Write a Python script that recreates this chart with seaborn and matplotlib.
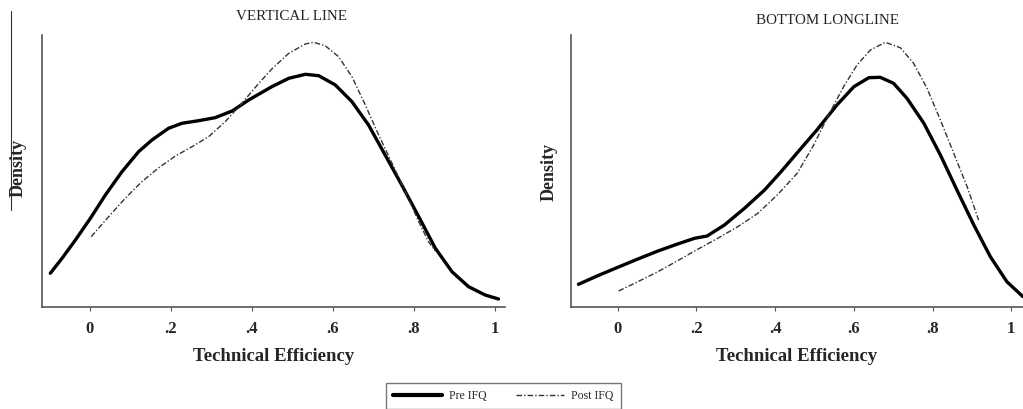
import matplotlib
matplotlib.use("Agg")
import matplotlib.pyplot as plt
from matplotlib.lines import Line2D
import seaborn as sns

# =========================
# DATA (density in arbitrary units)
# =========================
vl_pre_x = [-0.098, -0.069, -0.036, 0.001, 0.038, 0.079, 0.120, 0.153, 0.194,
            0.227, 0.268, 0.309, 0.351, 0.392, 0.449, 0.491, 0.532, 0.565,
            0.606, 0.647, 0.688, 0.729, 0.770, 0.812, 0.853, 0.894, 0.935,
            0.976, 1.009]
vl_pre_y = [0.337, 0.487, 0.670, 0.887, 1.120, 1.353, 1.553, 1.670, 1.787,
            1.837, 1.863, 1.893, 1.960, 2.070, 2.203, 2.287, 2.327, 2.313,
            2.220, 2.053, 1.820, 1.520, 1.220, 0.903, 0.587, 0.353, 0.203,
            0.120, 0.080]

vl_post_x = [0.003, 0.046, 0.087, 0.128, 0.170, 0.211, 0.252, 0.293, 0.334,
             0.375, 0.417, 0.449, 0.491, 0.532, 0.552, 0.581, 0.614, 0.647,
             0.680, 0.713, 0.746, 0.779, 0.812, 0.836, 0.853]
vl_post_y = [0.703, 0.903, 1.087, 1.253, 1.393, 1.510, 1.603, 1.703, 1.853,
             2.037, 2.237, 2.380, 2.537, 2.630, 2.647, 2.613, 2.503, 2.303,
             2.020, 1.720, 1.437, 1.153, 0.853, 0.653, 0.560]

bl_pre_x = [-0.100, -0.051, 0.000, 0.051, 0.102, 0.152, 0.195, 0.227, 0.271,
            0.322, 0.373, 0.415, 0.456, 0.506, 0.557, 0.600, 0.638, 0.667,
            0.701, 0.735, 0.778, 0.820, 0.862, 0.905, 0.947, 0.989, 1.030]
bl_pre_y = [0.227, 0.313, 0.397, 0.480, 0.560, 0.630, 0.687, 0.710, 0.820,
            0.987, 1.170, 1.353, 1.542, 1.770, 2.020, 2.203, 2.293, 2.297,
            2.237, 2.087, 1.837, 1.520, 1.170, 0.820, 0.503, 0.253, 0.103]

bl_post_x = [0.002, 0.051, 0.102, 0.152, 0.203, 0.254, 0.305, 0.356, 0.407,
             0.456, 0.498, 0.540, 0.574, 0.608, 0.642, 0.680, 0.718, 0.752,
             0.786, 0.820, 0.854, 0.888, 0.917]
bl_post_y = [0.160, 0.253, 0.353, 0.463, 0.577, 0.687, 0.803, 0.937, 1.127,
             1.337, 1.620, 1.953, 2.203, 2.420, 2.570, 2.647, 2.593, 2.437,
             2.187, 1.870, 1.537, 1.203, 0.870]

panels = ["VERTICAL LINE", "BOTTOM LONGLINE"]
tick_vals = [0, 0.2, 0.4, 0.6, 0.8, 1]
tick_labels = ["0", ".2", ".4", ".6", ".8", "1"]
legend_labels = ["Pre IFQ", "Post IFQ"]

# =========================
# STYLE
# =========================
sns.set_style("white")
plt.rcParams["font.family"] = ["Liberation Serif", "DejaVu Serif"]

post_style = (0, (4, 1.5, 1, 1.5))

fig = plt.figure(figsize=(10.23, 4.09), dpi=100)

ax1 = fig.add_axes([42 / 1023, 1 - 307 / 409, 463 / 1023, 272 / 409])
ax2 = fig.add_axes([571 / 1023, 1 - 307 / 409, 452 / 1023, 272 / 409])

series = [
    (ax1, vl_pre_x, vl_pre_y, vl_post_x, vl_post_y, (-0.1185, 1.025)),
    (ax2, bl_pre_x, bl_pre_y, bl_post_x, bl_post_y, (-0.119, 1.03)),
]

for (ax, px, py, qx, qy, xlim), title in zip(series, panels):

    sns.lineplot(x=px, y=py, ax=ax, color="black", linewidth=2.4,
                 sort=False, estimator=None)

    sns.lineplot(x=qx, y=qy, ax=ax, color="#333333", linewidth=1.0,
                 sort=False, estimator=None, linestyle=post_style)

    ax.set_xlim(*xlim)
    ax.set_ylim(0, 2.72)

    ax.set_xticks(tick_vals)
    ax.set_xticklabels(tick_labels, fontsize=12, fontweight="bold")
    ax.set_yticks([])

    ax.tick_params(axis="x", direction="out", length=3, width=0.8,
                   color="#555555", pad=7, bottom=True)

    for side in ["top", "right"]:
        ax.spines[side].set_visible(False)
    for side in ["left", "bottom"]:
        ax.spines[side].set_color("#555555")
        ax.spines[side].set_linewidth(1.2)

    ax.set_xlabel("Technical Efficiency", fontsize=13.5, fontweight="bold",
                  labelpad=8)
    ax.set_ylabel("")

# titles
fig.text(292 / 1023, 1 - 17 / 409, panels[0], ha="center", va="center",
         fontsize=10.8, color="#222222")
fig.text(827 / 1023, 1 - 20 / 409, panels[1], ha="center", va="center",
         fontsize=10.8, color="#222222")

# y labels
fig.text(18 / 1023, 1 - 168 / 409, "Density", rotation=90, ha="center",
         va="center", fontsize=13, fontweight="bold")
fig.text(549 / 1023, 1 - 172 / 409, "Density", rotation=90, ha="center",
         va="center", fontsize=13, fontweight="bold")

# stray rule at the far left of the original figure
fig.add_artist(Line2D([11 / 1023, 11 / 1023], [1 - 11 / 409, 1 - 210 / 409],
                      color="#333333", linewidth=0.8))

# =========================
# LEGEND
# =========================
handles = [
    Line2D([], [], color="black", linewidth=3.0),
    Line2D([], [], color="#333333", linewidth=1.0, linestyle=post_style),
]

fig.legend(handles, legend_labels, loc="lower center",
           bbox_to_anchor=(503.5 / 1023, 0.0), ncol=2, fontsize=8.5,
           frameon=True, fancybox=False, edgecolor="#555555",
           handlelength=4.1, handletextpad=0.6, columnspacing=2.5,
           borderpad=0.6, borderaxespad=0)

plt.savefig("out.png", dpi=100)
plt.close()
